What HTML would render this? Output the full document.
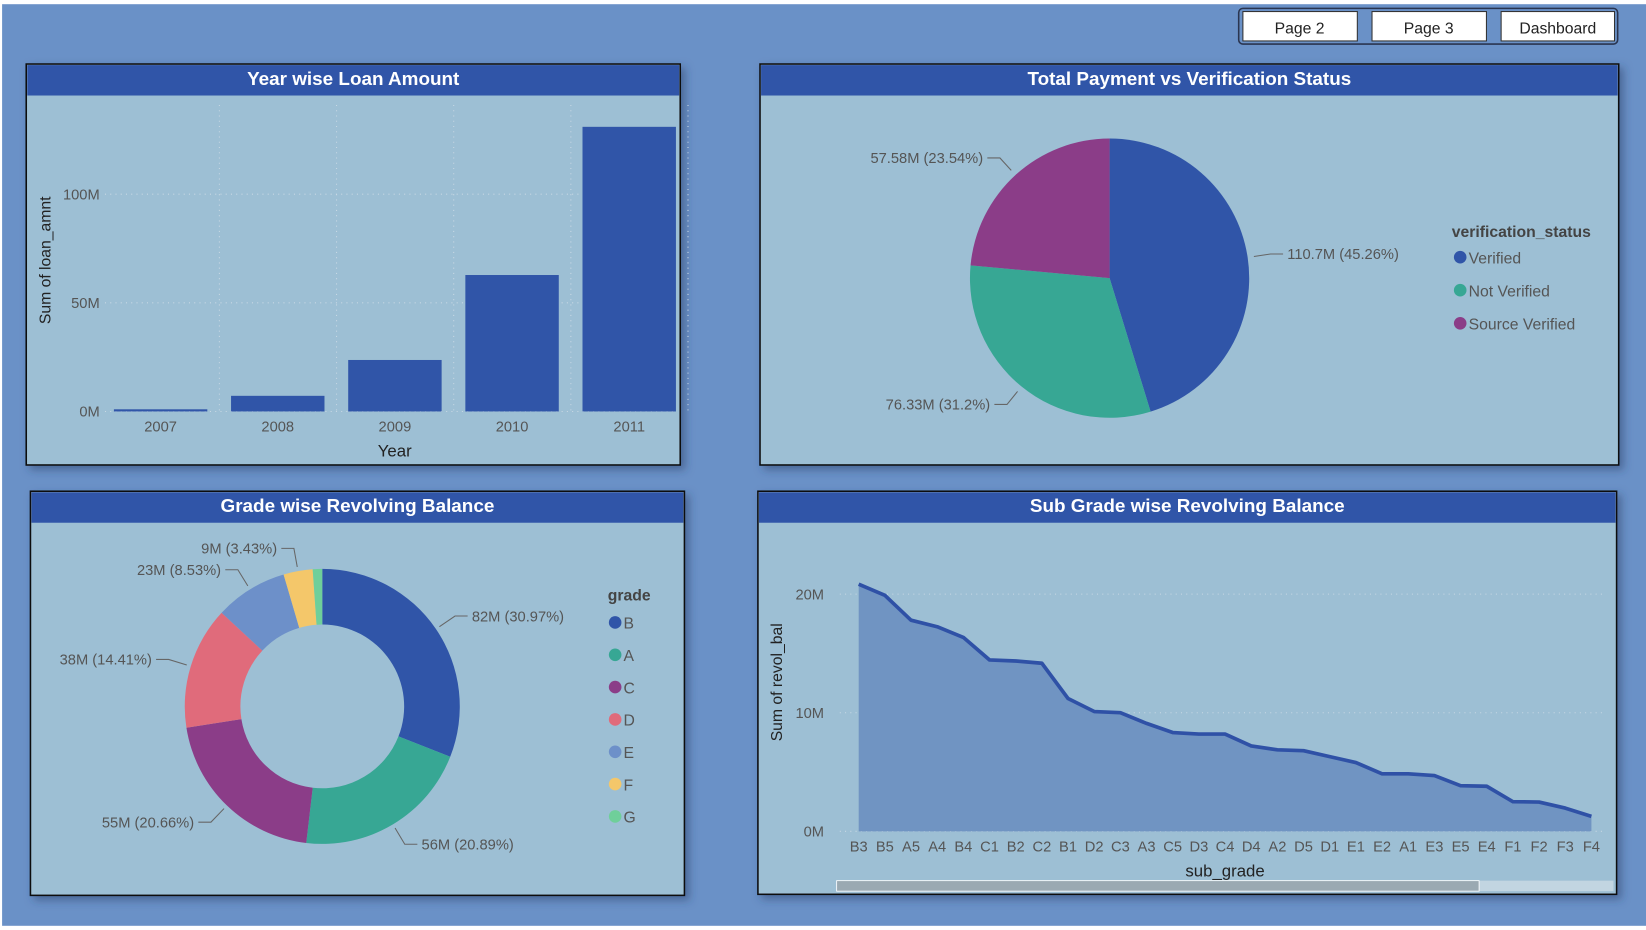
<!DOCTYPE html>
<html><head><meta charset="utf-8"><style>
html,body{margin:0;padding:0;width:1646px;height:930px;overflow:hidden;background:#fff}
svg{display:block}
text{font-family:"Liberation Sans","DejaVu Sans",sans-serif}
</style></head><body>
<svg id="s" width="1646" height="930" viewBox="0 0 1568 886" preserveAspectRatio="none">
<defs><filter id="sh" x="-5%" y="-5%" width="112%" height="115%"><feDropShadow dx="4" dy="4" stdDeviation="4" flood-color="#2a3d66" flood-opacity="0.5"/></filter></defs>
<rect x="2" y="4" width="1566" height="878" fill="#6a91c7"/>
<g>
<rect x="1180" y="8" width="361" height="34" rx="4" fill="#6a91c7" stroke="#2a3550" stroke-width="1.5"/>
<g><rect x="1184" y="11" width="109" height="28" fill="#fff" stroke="#333"/><text x="1238" y="32" font-size="15" text-anchor="middle" fill="#222">Page 2</text></g>
<g><rect x="1307" y="11" width="109" height="28" fill="#fff" stroke="#333"/><text x="1361" y="32" font-size="15" text-anchor="middle" fill="#222">Page 3</text></g>
<g><rect x="1430" y="11" width="108" height="28" fill="#fff" stroke="#333"/><text x="1484" y="32" font-size="15" text-anchor="middle" fill="#222">Dashboard</text></g>
</g>
<g id="p1"></g>
<g id="p2"></g>
<g id="p3"></g>
<g id="p4"></g>
</svg>
<script>
const years=['2007','2008','2009','2010','2011'];
const loanAmt=[1,7.2,23.7,62.8,131];
const yTicks1=[0,50,100];
const verLabels=['Verified','Not Verified','Source Verified'];
const verValues=[110.7,76.33,57.58];
const verPct=[45.26,31.2,23.54];
const grades=['B','A','C','D','E','F','G'];
const gradeValues=[82,56,55,38,23,9,3];
const gradePct=[30.97,20.89,20.66,14.41,8.53,3.43,1.11];
const subGrades=['B3','B5','A5','A4','B4','C1','B2','C2','B1','D2','C3','A3','C5','D3','C4','D4','A2','D5','D1','E1','E2','A1','E3','E5','E4','F1','F2','F3','F4'];
const revolBal=[20.84,19.9,17.8,17.25,16.35,14.45,14.36,14.17,11.2,10.1,10.0,9.1,8.33,8.2,8.2,7.2,6.87,6.8,6.3,5.8,4.85,4.85,4.7,3.85,3.8,2.5,2.47,1.96,1.26];
const yTicks4=[0,10,20];

const NS='http://www.w3.org/2000/svg';
function mk(p,t,a,txt){const e=document.createElementNS(NS,t);for(const k in a)e.setAttribute(k,a[k]);if(txt!==undefined)e.textContent=txt;p.appendChild(e);return e;}
function panel(g,x,y,w,h,title){
  const r=mk(g,'rect',{x:x,y:y,width:w,height:h,fill:'#9dbfd4',stroke:'#111','stroke-width':1.5,filter:'url(#sh)'});
  
  
  const hd=mk(g,'rect',{x:x+1,y:y+1,width:w-2,height:29,fill:'#3055a8'});
  
  
  const t=mk(g,'text',{x:x+w/2,y:y+20,'font-size':18,'font-weight':'bold','text-anchor':'middle',fill:'#fff'},title);
  
  
}
// Panel 1
const p1=document.getElementById('p1');
panel(p1,25,61,623,382,'Year wise Loan Amount');
const y1=v=>392-v*2.07, x1=i=>153+i*111.6;
yTicks1.forEach(v=>{
  mk(p1,'line',{x1:100,x2:645,y1:y1(v),y2:y1(v),stroke:'#c8d8e4','stroke-dasharray':'1 4'});
  const t=mk(p1,'text',{x:95,y:y1(v)+5,'font-size':14,'text-anchor':'end',fill:'#555'},v+'M');
  
  
});
years.forEach((yr,i)=>{
  mk(p1,'line',{x1:x1(i)+56,x2:x1(i)+56,y1:100,y2:392,stroke:'#c8d8e4','stroke-dasharray':'1 4'});
  const b=mk(p1,'rect',{x:x1(i)-44.5,y:y1(loanAmt[i]),width:89,height:392-y1(loanAmt[i]),fill:'#3055a8'});
  
  
  const t=mk(p1,'text',{x:x1(i),y:411,'font-size':14,'text-anchor':'middle',fill:'#555'},yr);
  
  
});
let t=mk(p1,'text',{x:376,y:435,'font-size':16,'text-anchor':'middle',fill:'#222'},'Year');


t=mk(p1,'text',{x:0,y:0,'font-size':15,'text-anchor':'middle',fill:'#222',transform:'translate(48,248) rotate(-90)'},'Sum of loan_amnt');



function arc(cx,cy,ro,ri,a0,a1){
  const P=(r,a)=>[cx+r*Math.sin(a),cy-r*Math.cos(a)];const L=(a1-a0)>Math.PI?1:0;
  const [x0,y0]=P(ro,a0),[x2,y2]=P(ro,a1);
  if(!ri)return `M${cx},${cy}L${x0},${y0}A${ro},${ro} 0 ${L} 1 ${x2},${y2}Z`;
  const [x3,y3]=P(ri,a1),[x4,y4]=P(ri,a0);
  return `M${x0},${y0}A${ro},${ro} 0 ${L} 1 ${x2},${y2}L${x3},${y3}A${ri},${ri} 0 ${L} 0 ${x4},${y4}Z`;
}
// Panel 2
const p2=document.getElementById('p2');
panel(p2,724,61,818,382,'Total Payment vs Verification Status');
const vc=['#3055a8','#37a794','#8b3d88'];
const vTot=verValues.reduce((a,b)=>a+b,0);
let a=0;const cx2=1057,cy2=265,r2=133;
verValues.forEach((v,i)=>{
  const a1=a+v/vTot*2*Math.PI;
  const s=mk(p2,'path',{d:arc(cx2,cy2,r2,0,a,a1),fill:vc[i]});
  
  
  const m=(a+a1)/2, ex=cx2+(r2+6)*Math.sin(m), ey=cy2-(r2+6)*Math.cos(m);
  const right=Math.sin(m)>0, lx=cx2+(r2+22)*Math.sin(m), ly=cy2-(r2+22)*Math.cos(m);
  const hx=right?lx+12:lx-12;
  mk(p2,'polyline',{points:`${ex},${ey} ${lx},${ly} ${hx},${ly}`,fill:'none',stroke:'#666'});
  const lt=mk(p2,'text',{x:right?hx+4:hx-4,y:ly+5,'font-size':14,'text-anchor':right?'start':'end',fill:'#555'},verValues[i]+'M ('+verPct[i]+'%)');
  
  
  a=a1;
});
t=mk(p2,'text',{x:1383,y:226,'font-size':15,'font-weight':'bold',fill:'#444'},'verification_status');


verLabels.forEach((l,i)=>{
  const y=245+i*31.5;
  const g=mk(p2,'g',{});
  
  
  mk(g,'circle',{cx:1391,cy:y,r:6,fill:vc[i]});
  mk(g,'text',{x:1399,y:y+6,'font-size':15,fill:'#555'},l);
});
// Panel 3
const p3=document.getElementById('p3');
panel(p3,29,468,623,385,'Grade wise Revolving Balance');
const gc=['#3055a8','#37a794','#8b3d88','#e06b7b','#6d90c9','#f4c76a','#6fcf9a'];
const gTot=gradePct.reduce((a,b)=>a+b,0);
a=0;const cx3=307,cy3=673,ro=131,ri=78;
gradePct.forEach((p,i)=>{
  const a1=a+p/gTot*2*Math.PI;
  const s=mk(p3,'path',{d:arc(cx3,cy3,ro,ri,a,a1),fill:gc[i]});
  
  
  if(i<6){
    const m=(a+a1)/2, ex=cx3+(ro+4)*Math.sin(m), ey=cy3-(ro+4)*Math.cos(m);
    const right=Math.sin(m)>0, lx=cx3+(ro+22)*Math.sin(m), ly=cy3-(ro+22)*Math.cos(m);
    const hx=right?lx+12:lx-12;
    mk(p3,'polyline',{points:`${ex},${ey} ${lx},${ly} ${hx},${ly}`,fill:'none',stroke:'#666'});
    const lt=mk(p3,'text',{x:right?hx+4:hx-4,y:ly+5,'font-size':14,'text-anchor':right?'start':'end',fill:'#555'},gradeValues[i]+'M ('+p+'%)');
    
    
  }
  a=a1;
});
t=mk(p3,'text',{x:579,y:572,'font-size':15,'font-weight':'bold',fill:'#444'},'grade');


grades.forEach((gname,i)=>{
  const y=593+i*30.8;
  const g=mk(p3,'g',{});
  
  
  mk(g,'circle',{cx:586,cy:y,r:6,fill:gc[i]});
  mk(g,'text',{x:594,y:y+6,'font-size':15,fill:'#555'},gname);
});
// Panel 4
const p4=document.getElementById('p4');
panel(p4,722,468,818,384,'Sub Grade wise Revolving Balance');
const x4=i=>818+i*(1516-818)/(subGrades.length-1), y4=v=>792-v*11.3;
yTicks4.forEach(v=>{
  mk(p4,'line',{x1:800,x2:1530,y1:y4(v),y2:y4(v),stroke:'#c8d8e4','stroke-dasharray':'1 4'});
  const tt=mk(p4,'text',{x:785,y:y4(v)+5,'font-size':14,'text-anchor':'end',fill:'#555'},v+'M');
  
  
});
let pts=revolBal.map((v,i)=>x4(i)+','+y4(v)).join(' ');
const ar=mk(p4,'polygon',{points:`${x4(0)},${y4(0)} ${pts} ${x4(subGrades.length-1)},${y4(0)}`,fill:'#7094c2'});


const ln=mk(p4,'polyline',{points:pts,fill:'none',stroke:'#2f51a6','stroke-width':3.5,'stroke-linejoin':'round'});


subGrades.forEach((s,i)=>{
  const tt=mk(p4,'text',{x:x4(i),y:811,'font-size':14,'text-anchor':'middle',fill:'#555'},s);
  
  
});
t=mk(p4,'text',{x:1167,y:835,'font-size':16,'text-anchor':'middle',fill:'#222'},'sub_grade');


t=mk(p4,'text',{x:0,y:0,'font-size':15,'text-anchor':'middle',fill:'#222',transform:'translate(745,650) rotate(-90)'},'Sum of revol_bal');


const tr=mk(p4,'rect',{x:797,y:839,width:740,height:10,fill:'#c2d5e1'});


const th=mk(p4,'rect',{x:797,y:839,width:612,height:10,fill:'#9aa9b2',stroke:'#fff','stroke-width':0.8});


</script>
</body></html>
